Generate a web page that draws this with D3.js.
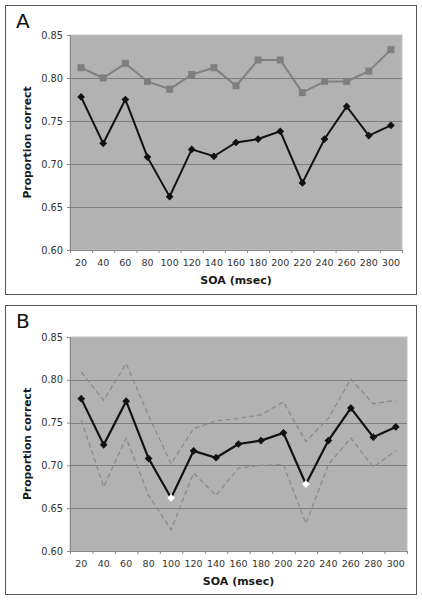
<!DOCTYPE html>
<html>
<head>
<meta charset="utf-8">
<script src="https://cdn.jsdelivr.net/npm/d3@7"></script>
<style>
html,body{margin:0;padding:0;background:#fff;}
svg{display:block;}
text{font-family:"DejaVu Sans",Verdana,sans-serif;}
</style>
</head>
<body>
<svg id="chart" width="422" height="601"></svg>
<script>
// ---- data ----
const soa = [20,40,60,80,100,120,140,160,180,200,220,240,260,280,300];
const grayA = [0.812,0.800,0.817,0.796,0.787,0.804,0.812,0.791,0.821,0.821,0.783,0.796,0.796,0.808,0.833];
const blackAB = [0.778,0.724,0.775,0.708,0.662,0.717,0.709,0.725,0.729,0.738,0.678,0.729,0.767,0.733,0.745];
const upperB = [0.809,0.776,0.819,0.758,0.702,0.743,0.752,0.755,0.759,0.774,0.728,0.755,0.801,0.772,0.776];
const lowerB = [0.753,0.675,0.732,0.665,0.625,0.691,0.665,0.697,0.700,0.701,0.632,0.701,0.732,0.698,0.717];
const highlightedB = [100,220];
const yTicks = [0.60,0.65,0.70,0.75,0.80,0.85];
const panelLabels = ["A","B"];
const xTitle = "SOA (msec)";
const yTitle = "Proportion correct";

const svg = d3.select("#chart");

function panel(cfg){
  const g = svg.append("g");
  g.append("rect").attr("x",cfg.frame[0]+0.5).attr("y",cfg.frame[1]+0.5)
    .attr("width",cfg.frame[2]-cfg.frame[0]).attr("height",cfg.frame[3]-cfg.frame[1])
    .attr("fill","none").attr("stroke","#555").attr("stroke-width",1);
  g.append("text").attr("x",cfg.frame[0]+11).attr("y",cfg.frame[1]+23)
    .attr("font-size",20).attr("fill","#111").text(cfg.label);

  const x = d3.scaleBand().domain(soa).range([cfg.left,cfg.right]).padding(0);
  const xi = d3.scaleLinear().domain([0,soa.length]).range([cfg.left,cfg.right]);
  const y = d3.scaleLinear().domain([0.60,0.85]).range([cfg.bottom,cfg.top]);
  const cx = d => x(d)+x.bandwidth()/2;

  g.append("rect").attr("x",cfg.left).attr("y",cfg.top)
    .attr("width",cfg.right-cfg.left).attr("height",cfg.bottom-cfg.top)
    .attr("fill","#b2b2b2").attr("stroke","#c4c4c4");
  g.append("g").selectAll("line").data(yTicks.slice(1,-1)).join("line")
    .attr("x1",cfg.left).attr("x2",cfg.right)
    .attr("y1",d=>Math.round(y(d))+0.5).attr("y2",d=>Math.round(y(d))+0.5)
    .attr("stroke","#7c7c7c").attr("stroke-width",1);

  const ya = g.append("g").attr("transform",`translate(${cfg.left},0)`)
    .call(d3.axisLeft(y).tickValues(yTicks).tickFormat(d3.format(".2f")).tickSize(3).tickPadding(4));
  ya.select(".domain").attr("stroke","#888");
  ya.selectAll(".tick line").attr("stroke","#888");
  ya.selectAll("text").attr("font-size",9.8).attr("fill","#333").attr("font-family","DejaVu Sans");

  const xa = g.append("g").attr("transform",`translate(0,${cfg.bottom})`)
    .call(d3.axisBottom(xi).tickValues(d3.range(soa.length+1)).tickFormat("").tickSize(3));
  xa.select(".domain").attr("stroke","#888");
  xa.selectAll(".tick line").attr("stroke","#888");
  const xl = g.append("g").attr("transform",`translate(0,${cfg.bottom})`)
    .call(d3.axisBottom(x).tickSize(0).tickPadding(9));
  xl.select(".domain").remove();
  xl.selectAll("text").attr("font-size",9.5).attr("fill","#333").attr("font-family","DejaVu Sans");

  g.append("text").attr("x",(cfg.left+cfg.right)/2).attr("y",cfg.bottom+34)
    .attr("text-anchor","middle").attr("font-size",11).attr("font-weight","bold").attr("fill","#1a1a1a").text(xTitle);
  g.append("text").attr("transform",`translate(${cfg.frame[0]+26},${(cfg.top+cfg.bottom)/2}) rotate(-90)`)
    .attr("text-anchor","middle").attr("font-size",10.8).attr("font-weight","bold").attr("fill","#1a1a1a").text(yTitle);

  const line = d3.line().x((d,i)=>cx(soa[i])).y(d=>y(d));
  const diamond = d3.symbol().type(d3.symbolSquare).size(30);

  cfg.draw(g, {x, y, cx, line, diamond});
}

panel({
  label: panelLabels[0], frame:[5,5,416,294],
  left:70, right:402, top:35, bottom:250,
  draw(g, s){
    g.append("path").datum(grayA).attr("d",s.line).attr("fill","none")
      .attr("stroke","#808080").attr("stroke-width",2);
    g.append("g").selectAll("rect").data(grayA).join("rect")
      .attr("x",(d,i)=>s.cx(soa[i])-3.5).attr("y",d=>s.y(d)-3.5)
      .attr("width",7).attr("height",7).attr("fill","#7f7f7f");
    g.append("path").datum(blackAB).attr("d",s.line).attr("fill","none")
      .attr("stroke","#111").attr("stroke-width",2);
    g.append("g").selectAll("path").data(blackAB).join("path")
      .attr("d",s.diamond)
      .attr("transform",(d,i)=>`translate(${s.cx(soa[i])},${s.y(d)}) rotate(45)`)
      .attr("fill","#111");
  }
});

panel({
  label: panelLabels[1], frame:[5,305,416,594],
  left:70, right:407, top:337, bottom:551,
  draw(g, s){
    [upperB, lowerB].forEach(arr=>{
      g.append("path").datum(arr).attr("d",s.line).attr("fill","none")
        .attr("stroke","#8a8a8a").attr("stroke-width",1.2).attr("stroke-dasharray","5,3");
    });
    g.append("path").datum(blackAB).attr("d",s.line).attr("fill","none")
      .attr("stroke","#111").attr("stroke-width",2.2);
    g.append("g").selectAll("path").data(blackAB).join("path")
      .attr("d",s.diamond)
      .attr("transform",(d,i)=>`translate(${s.cx(soa[i])},${s.y(d)}) rotate(45)`)
      .attr("fill",(d,i)=>highlightedB.includes(soa[i])?"#fff":"#111");
  }
});
</script>
</body>
</html>
